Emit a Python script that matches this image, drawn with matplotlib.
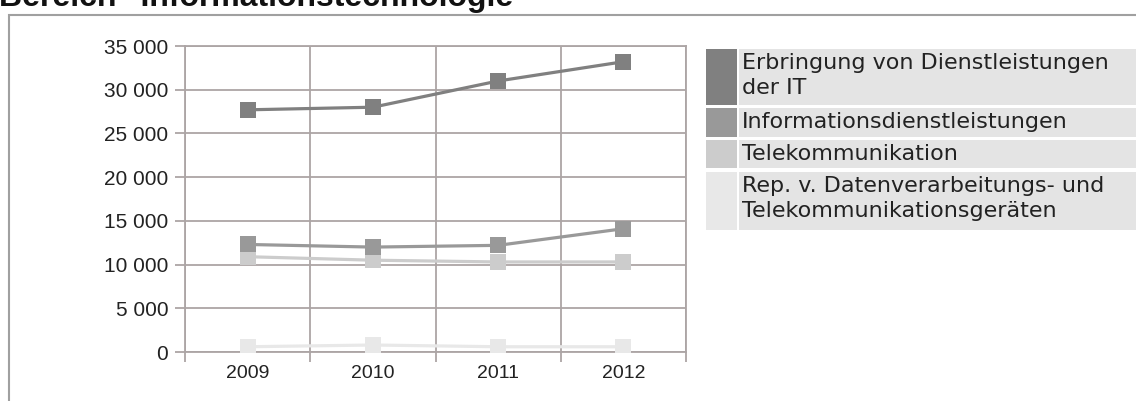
import matplotlib
matplotlib.use("Agg")
import matplotlib.pyplot as plt
from matplotlib.patches import Rectangle
from matplotlib.ticker import FuncFormatter, MultipleLocator

# data
years = ["2009", "2010", "2011", "2012"]
it_dienste = [27700, 28000, 31000, 33200]
info_dienste = [12300, 12000, 12200, 14100]
telekom = [10900, 10500, 10300, 10300]
reparatur = [600, 800, 600, 600]

series_labels = [
    "Erbringung von Dienstleistungen\nder IT",
    "Informationsdienstleistungen",
    "Telekommunikation",
    "Rep. v. Datenverarbeitungs- und\nTelekommunikationsgeräten",
]
series_values = [it_dienste, info_dienste, telekom, reparatur]
series_colors = ["#808080", "#999999", "#cccccc", "#e8e8e8"]

W, H = 1136, 401
fig = plt.figure(figsize=(W / 100, H / 100), dpi=100)


def fx(px):
    return px / W


def fy(py):
    return 1 - py / H


# title (cut off at the top like in the original)
fig.text(fx(-1), fy(6), 'Bereich "Informationstechnologie"', fontsize=23,
         fontweight="bold", family="Liberation Sans", color="#111111",
         ha="left", va="baseline")

# outer frame
fig.patches.append(Rectangle((fx(9), fy(H + 5)), fx(W + 10) - fx(9), fy(15) - fy(H + 5),
                             transform=fig.transFigure, fill=False,
                             edgecolor="#a0a0a0", linewidth=1.5))

left, right, top, bottom = 185, 686, 46, 352
ax = fig.add_axes([fx(left), fy(bottom), fx(right) - fx(left), fy(top) - fy(bottom)])

x = list(range(len(years)))
for vals, col in reversed(list(zip(series_values, series_colors))):
    ax.plot(x, vals, color=col, linewidth=2.3, marker="s", markersize=11,
            markeredgewidth=0, zorder=3)

grid_col = "#aca5a5"
ax.set_xlim(-0.5, 3.5)
ax.set_ylim(0, 35000)
ax.yaxis.set_major_locator(MultipleLocator(5000))
ax.yaxis.set_major_formatter(FuncFormatter(lambda v, p: f"{int(v):,}".replace(",", " ")))
ax.set_xticks([-0.5, 0.5, 1.5, 2.5, 3.5])
ax.set_xticklabels([])
ax.set_xticks(x, minor=True)
ax.set_xticklabels(years, minor=True)
ax.tick_params(axis="x", which="major", length=7, color=grid_col, width=1.3)
ax.tick_params(axis="x", which="minor", length=0, pad=9, labelsize=14, labelcolor="#222222")
ax.tick_params(axis="y", length=7, color=grid_col, width=1.3, pad=5,
               labelsize=15, labelcolor="#222222")
for lab in ax.get_xticklabels(minor=True) + ax.get_yticklabels():
    lab.set_family("Liberation Sans")
ax.grid(True, which="major", color=grid_col, linewidth=1.3)
for side, sp in ax.spines.items():
    sp.set_color(grid_col)
    sp.set_linewidth(1.3)
ax.set_axisbelow(True)

# legend as a table of colored cells
rows = [(49, 105), (108, 137), (140, 168), (172, 230)]
for (r0, r1), lab, col in zip(rows, series_labels, series_colors):
    fig.patches.append(Rectangle((fx(706), fy(r1)), fx(737) - fx(706), fy(r0) - fy(r1),
                                 transform=fig.transFigure, color=col, linewidth=0))
    fig.patches.append(Rectangle((fx(739), fy(r1)), fx(W) - fx(739), fy(r0) - fy(r1),
                                 transform=fig.transFigure, color="#e4e4e4", linewidth=0))
    fig.text(fx(742), fy(r0 + 4), lab, fontsize=16, family="DejaVu Sans",
             color="#222222", ha="left", va="top", linespacing=1.3)

fig.savefig("out.png", dpi=100, facecolor="white")
